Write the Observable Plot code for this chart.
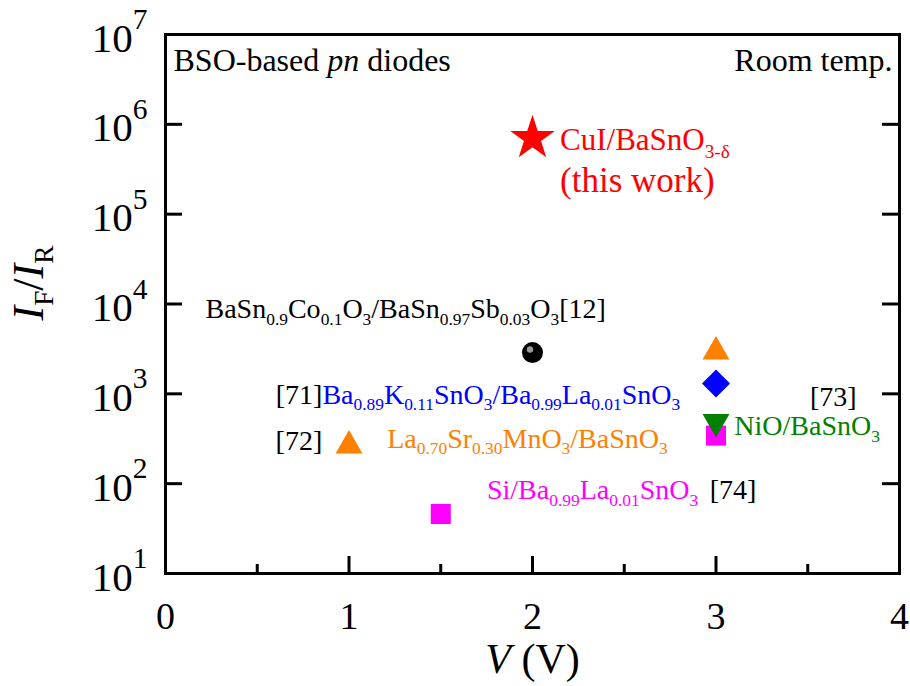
<!DOCTYPE html>
<html><head><meta charset="utf-8">
<script src="https://cdn.jsdelivr.net/npm/d3@7"></script>
<script src="https://cdn.jsdelivr.net/npm/@observablehq/plot@0.6"></script>
<style>body{margin:0;background:#fff}</style>
</head><body><div id="chart"></div>
<script>
// ---- data ----
const pointV      = [1.5, 3, 3, 3, 1, 3, 2, 2];
const pointRatio  = [46, 343, 490, 2950, 265, 1300, 2880, 7.0e5];
const pointSymbol = ["square", "square", "triangleDown", "triangle", "triangle", "diamond2", "circle", "star"];
const pointColor  = ["#ff00ff", "#ff00ff", "#008000", "#ff8000", "#ff8000", "#0000ff", "#000000", "#ff0000"];

const labelText = [
  "CuI/BaSnO_{3-δ}", "(this work)",
  "BaSn_{0.9}Co_{0.1}O_{3}/BaSn_{0.97}Sb_{0.03}O_{3}[12]",
  "[71]", "Ba_{0.89}K_{0.11}SnO_{3}/Ba_{0.99}La_{0.01}SnO_{3}",
  "[73]", "[72]", "La_{0.70}Sr_{0.30}MnO_{3}/BaSnO_{3}",
  "NiO/BaSnO_{3}", "Si/Ba_{0.99}La_{0.01}SnO_{3}", "[74]"
];
const labelV      = [2.15, 2.15, 0.218, 0.855, 0.855, 3.766, 0.60, 1.208, 3.10, 1.752, 2.966];
const labelRatio  = [6.6e5, 2.37e5, 8700, 980, 980, 910, 300, 318, 433, 84, 84];
const labelColor  = ["#ff0000", "#ff0000", "#000000", "#000000", "#0000ff", "#000000", "#000000", "#ff8000", "#008000", "#ff00ff", "#000000"];
const labelAnchor = ["start", "start", "start", "end", "start", "end", "start", "start", "start", "start", "start"];

const cornerLeft  = "BSO-based *{pn} diodes";
const cornerRight = "Room temp.";
const xTitle = "*{V} (V)";
const yTitle = "*{I}_{F}/*{I}_{R}";

const xTickValues = [0, 1, 2, 3, 4];
const xMinorTicks = [0.5, 1.5, 2.5, 3.5];
const yTickValues = [1e1, 1e2, 1e3, 1e4, 1e5, 1e6, 1e7];
const yInnerTicks = [1e2, 1e3, 1e4, 1e5, 1e6];

const points = pointV.map((v, i) => ({v, ratio: pointRatio[i], symbol: pointSymbol[i], color: pointColor[i]}));
const labels = labelText.map((t, i) => ({text: t, v: labelV[i], ratio: labelRatio[i], color: labelColor[i], anchor: labelAnchor[i]}));

const W = 910, H = 686, mL = 165, mR = 11, mT = 34, mB = 113;
const plotW = W - mL - mR, plotH = H - mT - mB;
const serif = "Liberation Serif";

const bySym = s => points.filter(p => p.symbol === s);
const dotOpts = {x: "v", y: "ratio", fill: "color", stroke: "none"};
const isRed = d => d.color === "#ff0000";
const lab = (anchor, red) => labels.filter(d => d.anchor === anchor && isRed(d) === red);
const redLines = lab("start", true);

const chart = Plot.plot({
  width: W, height: H,
  marginLeft: mL, marginRight: mR, marginTop: mT, marginBottom: mB,
  style: {fontFamily: serif, color: "black", background: "white"},
  x: {domain: [0, 4]},
  y: {type: "log", domain: [10, 1e7]},
  marks: [
    Plot.axisX({ticks: xTickValues, tickFormat: d => String(d), tickSize: 0, tickPadding: 29, fontSize: 38, label: null}),
    Plot.axisY({ticks: yTickValues, tickSize: 0, tickPadding: 18, fontSize: 41, dy: 4, label: null,
      tickFormat: d => `10^{${Math.round(Math.log10(d))}}`}),
    // inward ticks
    Plot.ruleX(xTickValues.slice(1, -1), {x: d => d, insetTop: plotH - 17, stroke: "black", strokeWidth: 3}),
    Plot.ruleX(xMinorTicks, {x: d => d, insetTop: plotH - 9, stroke: "black", strokeWidth: 3}),
    Plot.ruleY(yInnerTicks, {y: d => d, insetRight: plotW - 17, stroke: "black", strokeWidth: 3}),
    Plot.ruleY(yInnerTicks, {y: d => d, insetLeft: plotW - 17, stroke: "black", strokeWidth: 3}),
    Plot.frame({stroke: "black", strokeWidth: 3}),
    // markers
    Plot.dot(bySym("square"), {...dotOpts, symbol: "square", r: 11.3}),
    Plot.dot(bySym("triangleDown"), {...dotOpts, symbol: "triangle", r: 10, rotate: 180}),
    Plot.dot(bySym("triangle"), {...dotOpts, symbol: "triangle", r: 10}),
    Plot.dot(bySym("diamond2"), {...dotOpts, symbol: "diamond2", r: 12.6}),
    Plot.dot(bySym("circle"), {...dotOpts, symbol: "circle", r: 10.5}),
    Plot.dot(bySym("circle"), {x: "v", y: "ratio", r: 3.2, fill: "#9a9a9a", dx: -2.5, dy: -3}),
    Plot.dot(bySym("star"), {...dotOpts, symbol: "star", r: 14}),
    // labels
    Plot.text(lab("start", false), {x: "v", y: "ratio", text: "text", fill: "color", textAnchor: "start", lineAnchor: "middle", fontSize: 28}),
    Plot.text(lab("end", false), {x: "v", y: "ratio", text: "text", fill: "color", textAnchor: "end", lineAnchor: "middle", fontSize: 28}),
    Plot.text(redLines.slice(0, 1), {x: "v", y: "ratio", text: "text", fill: "color", textAnchor: "start", lineAnchor: "middle", fontSize: 31}),
    Plot.text(redLines.slice(1), {x: "v", y: "ratio", text: "text", fill: "color", textAnchor: "start", lineAnchor: "middle", fontSize: 35}),
    Plot.text([cornerLeft], {text: d => d, frameAnchor: "top-left", dx: 8, dy: 14, fontSize: 32}),
    Plot.text([cornerRight], {text: d => d, frameAnchor: "top-right", dx: -7, dy: 14, fontSize: 32}),
    // axis titles
    Plot.text([xTitle], {text: d => d, frameAnchor: "bottom", lineAnchor: "middle", textAnchor: "middle", dy: 86, fontSize: 42}),
    Plot.text([yTitle], {text: d => d, frameAnchor: "left", rotate: -90, textAnchor: "middle", lineAnchor: "middle", dx: -137, dy: -21, fontSize: 44})
  ]
});
document.getElementById("chart").appendChild(chart);

// rich text: _{sub}, ^{sup}, *{italic}
function richify(svg) {
  const NS = "http://www.w3.org/2000/svg";
  svg.querySelectorAll("text").forEach(el => {
    const s = el.textContent;
    if (!/[_^*]\{/.test(s)) return;
    const fs = parseFloat(getComputedStyle(el).fontSize);
    const re = /([_^*])\{([^}]*)\}/g;
    const parts = [];
    let last = 0, m;
    while ((m = re.exec(s))) {
      if (m.index > last) parts.push({t: s.slice(last, m.index), k: ""});
      parts.push({t: m[2], k: m[1]});
      last = re.lastIndex;
    }
    if (last < s.length) parts.push({t: s.slice(last), k: ""});
    el.textContent = "";
    let shift = 0;
    parts.forEach(p => {
      const ts = document.createElementNS(NS, "tspan");
      const target = p.k === "_" ? 0.24 * fs : p.k === "^" ? -0.55 * fs : 0;
      const dy = target - shift;
      if (dy) ts.setAttribute("dy", dy.toFixed(2));
      shift = target;
      if (p.k === "_") ts.setAttribute("font-size", (0.62 * fs).toFixed(1));
      if (p.k === "^") ts.setAttribute("font-size", (0.72 * fs).toFixed(1));
      if (p.k === "*") ts.setAttribute("font-style", "italic");
      ts.textContent = p.t;
      el.appendChild(ts);
    });
  });
}
richify(chart);
</script>
</body></html>
